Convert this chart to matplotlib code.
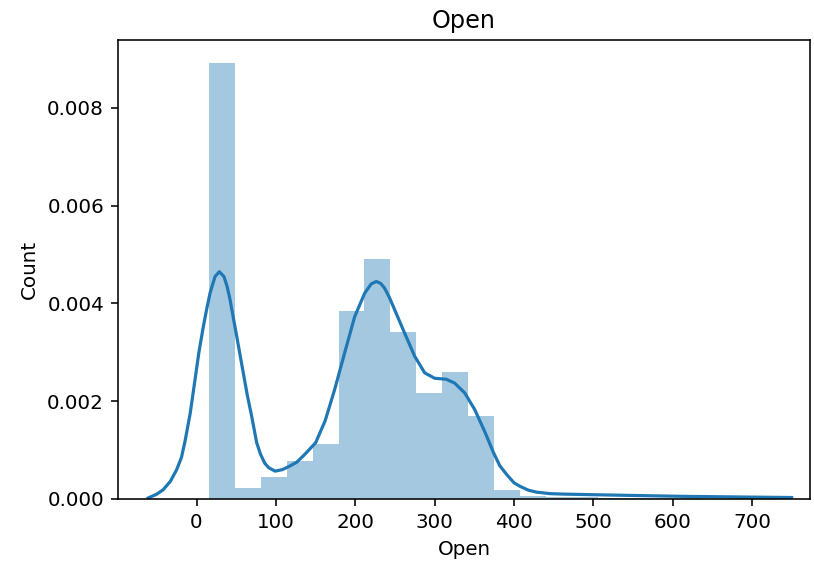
import numpy as np
import matplotlib.pyplot as plt

# histogram (density)
open_min, open_max = 15.4, 702.0
hist_density = [0.00892, 0.000225, 0.00044, 0.00078, 0.00113, 0.00384,
                0.00491, 0.00341, 0.00217, 0.0026, 0.00169, 0.00019,
                0.00006, 0.00004, 0.00004, 0.00003, 0.00003, 0.00002,
                0.00002, 0.00001, 0.00002]

# kde curve
kde_x = [-61, -50, -42, -33, -25, -19, -14.5, -8, -1.9, 3, 8.6, 13, 17,
         23.3, 28.7, 34.6, 38.5, 42.2, 50.6, 58.9, 64, 69.5, 75.8, 80.5,
         86, 91, 99, 108, 117, 126, 135, 150, 162, 174, 186.6, 199.2, 211.8,
         220, 226.5, 232, 237, 243, 249.6, 262.2, 274.8, 287.4, 300, 314.6,
         325.2, 337.8, 350.4, 363, 374, 382, 390.7, 400, 407.4, 418, 428.5,
         445, 462, 525, 609, 693, 749.6]
kde_y = [0.00002, 0.0001, 0.00019, 0.00036, 0.0006, 0.00085, 0.00118,
         0.00175, 0.00244, 0.003, 0.00353, 0.0039, 0.00421, 0.00455, 0.00465,
         0.00455, 0.00435, 0.00408, 0.00333, 0.00258, 0.00212, 0.00169,
         0.00115, 0.00092, 0.00073, 0.00064, 0.00057, 0.0006, 0.00067,
         0.00075, 0.00089, 0.00115, 0.0016, 0.00224, 0.00299, 0.00373,
         0.00421, 0.0044, 0.00445, 0.00441, 0.00431, 0.00412, 0.00387,
         0.00339, 0.00292, 0.00258, 0.00247, 0.00245, 0.00237, 0.00217,
         0.00183, 0.00138, 0.00095, 0.00068, 0.0005, 0.00033, 0.00026,
         0.00018, 0.00014, 0.00011, 0.0001, 0.00008, 0.000055, 0.00004,
         0.00003]

edges = np.linspace(open_min, open_max, len(hist_density) + 1)

fig = plt.figure(figsize=(814/143, 570/143), dpi=143)
ax = fig.add_axes([118/814, 71/570, 692/814, 459/570])

ax.bar(edges[:-1], hist_density, width=np.diff(edges), align='edge',
       color='#1f77b4', alpha=0.4, linewidth=0)
ax.plot(kde_x, kde_y, color='#1f77b4', lw=1.6, solid_joinstyle='round')

ax.set_xlim(-98.9, 772.7)
ax.set_ylim(0, 0.00939)
ax.set_xticks(range(0, 800, 100))
ax.set_yticks([0, 0.002, 0.004, 0.006, 0.008])
ax.set_yticklabels(['0.000', '0.002', '0.004', '0.006', '0.008'])
ax.set_xlabel('Open')
ax.set_ylabel('Count')
ax.set_title('Open')

fig.savefig('out.png', dpi=143)
